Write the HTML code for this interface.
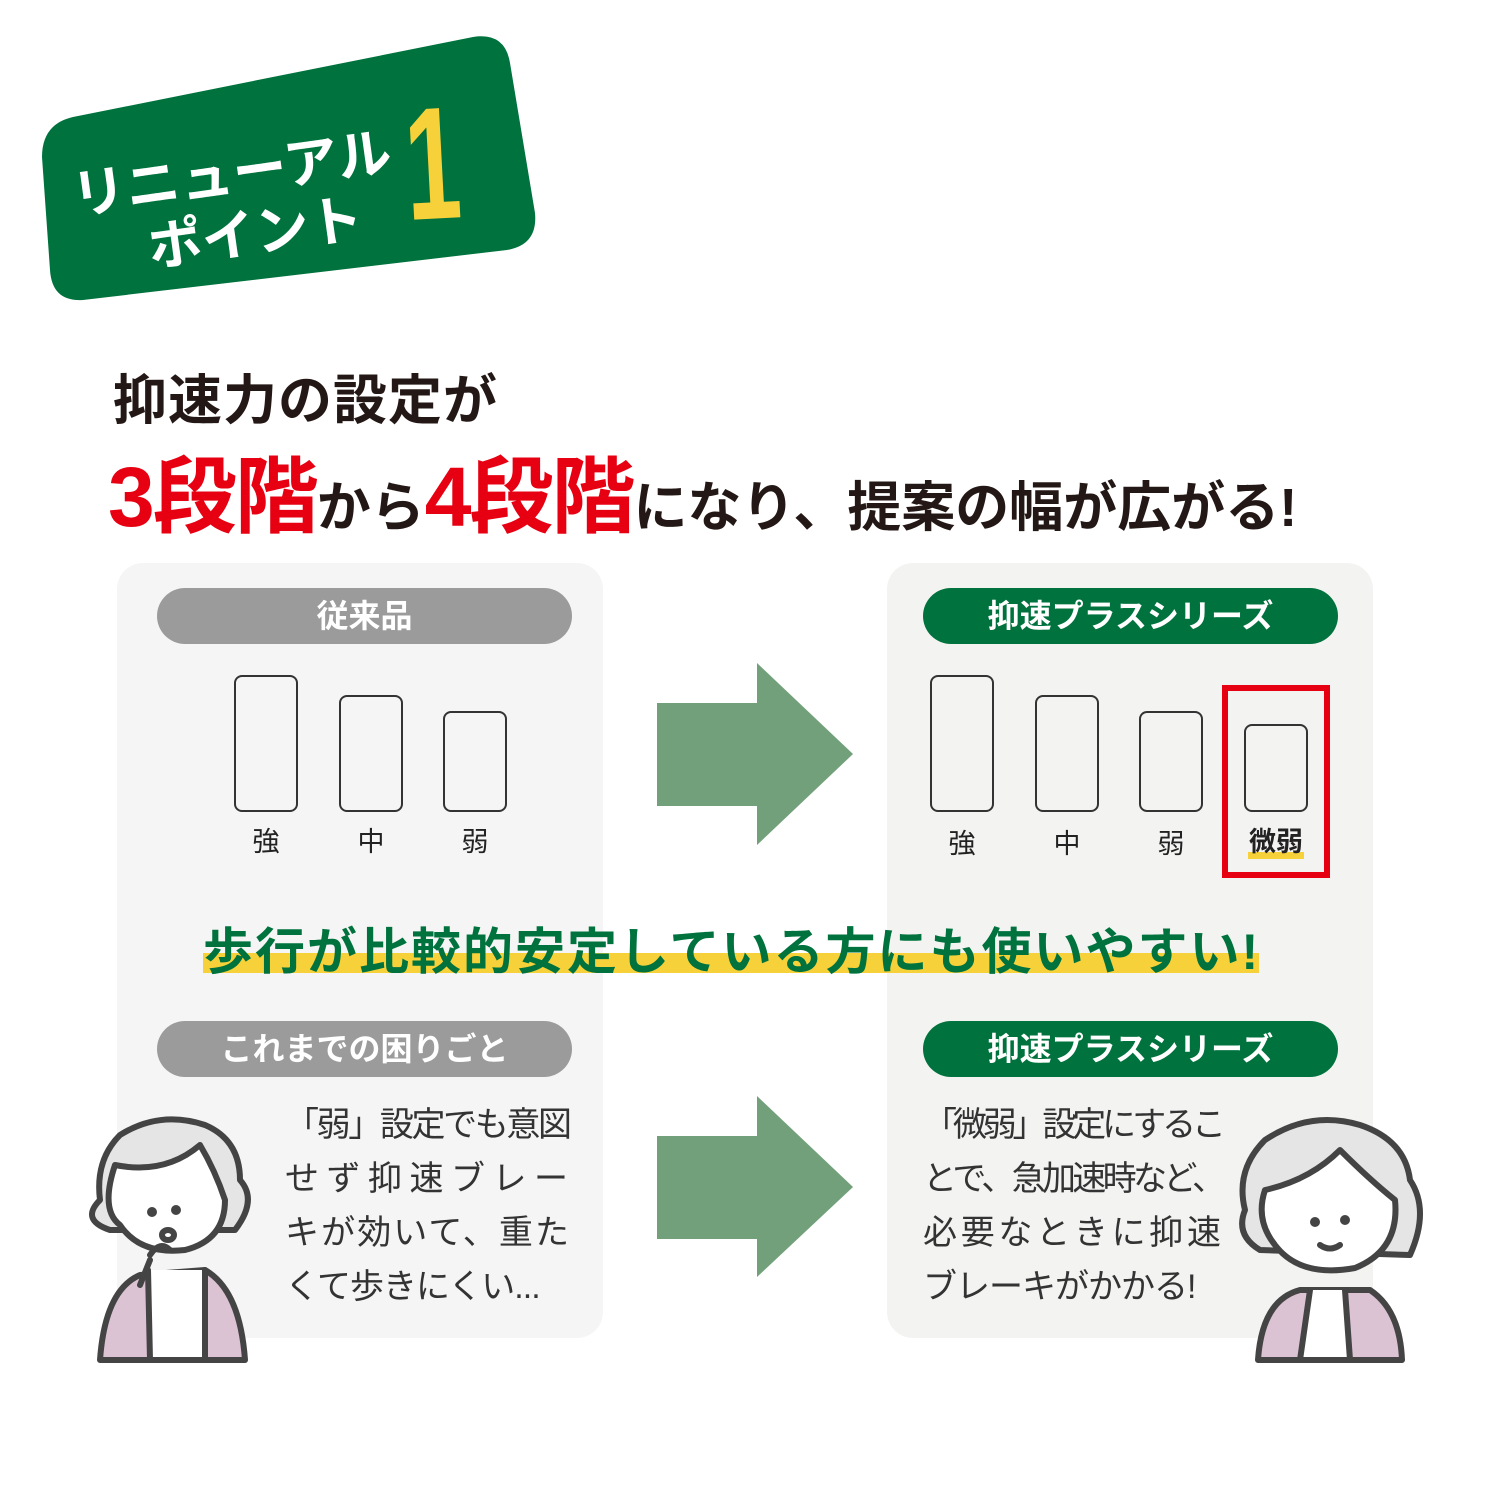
<!DOCTYPE html>
<html><head><meta charset="utf-8"><style>
body{margin:0;width:1500px;height:1500px;background:#fff;position:relative;overflow:hidden;font-family:"Liberation Sans","Noto Sans CJK JP",sans-serif;}
.a{position:absolute;white-space:nowrap}
.panel{position:absolute;border-radius:26px}
.pill{position:absolute;height:56px;border-radius:28px;color:#fff;font-size:32px;font-weight:bold;text-align:center;line-height:56px}
.bar{position:absolute;border:2px solid #333;border-radius:8px;background:transparent;box-sizing:border-box}
.lbl{position:absolute;font-size:27px;color:#222;width:64px;text-align:center}
.ln{position:absolute;font-size:34px;color:#333;height:54px;line-height:54px;white-space:nowrap;overflow:visible}
.j{text-align:justify;text-align-last:justify}
</style></head><body>
<svg class="a" style="left:0;top:0" width="1500" height="1500">
<path d="M73,117 L473,37 Q505,32 510,63 L535,213 Q538,245 507,250 L83,300 Q52,302 50,270 L42,157 Q42,124 73,117 Z" fill="#00723d"/>
<g transform="rotate(-8 250 180)" font-family="Liberation Sans,Noto Sans CJK JP,sans-serif" font-weight="bold" fill="#fff">
<text x="72" y="190" font-size="54">リニューアル</text>
<text x="140" y="252" font-size="54">ポイント</text>
</g>
<text x="0" y="0" font-size="160" font-weight="bold" fill="#f7d13a" font-family="Liberation Sans,sans-serif" transform="translate(408,220) rotate(-3) scale(0.62,1)">1</text>
</svg>
<div class="a" style="left:113px;top:356px;font-size:54px;font-weight:bold;color:#231815;letter-spacing:1px">抑速力の設定が</div>
<div class="a" style="left:108px;top:430px;font-weight:bold;color:#231815;font-size:54px;letter-spacing:0px"><span style="color:#e60012;font-size:84px;letter-spacing:-2px">3段階</span>から<span style="color:#e60012;font-size:84px;letter-spacing:-2px">4段階</span>になり、提案の幅が広がる!</div>

<div class="panel" style="left:117px;top:563px;width:486px;height:775px;background:#f5f5f5"></div>
<div class="panel" style="left:887px;top:563px;width:486px;height:775px;background:#f3f4f2"></div>

<div class="pill" style="left:157px;top:588px;width:415px;background:#9b9b9b">従来品</div>
<div class="pill" style="left:923px;top:588px;width:415px;background:#00723d">抑速プラスシリーズ</div>
<div class="pill" style="left:157px;top:1021px;width:415px;background:#9b9b9b">これまでの困りごと</div>
<div class="pill" style="left:923px;top:1021px;width:415px;background:#00723d">抑速プラスシリーズ</div>

<div class="bar" style="left:234px;top:675px;width:64px;height:137px"></div>
<div class="bar" style="left:339px;top:695px;width:64px;height:117px"></div>
<div class="bar" style="left:443px;top:711px;width:64px;height:101px"></div>
<div class="lbl" style="left:234px;top:820px">強</div>
<div class="lbl" style="left:339px;top:820px">中</div>
<div class="lbl" style="left:443px;top:820px">弱</div>

<div class="bar" style="left:930px;top:675px;width:64px;height:137px"></div>
<div class="bar" style="left:1035px;top:695px;width:64px;height:117px"></div>
<div class="bar" style="left:1139px;top:711px;width:64px;height:101px"></div>
<div class="bar" style="left:1244px;top:724px;width:64px;height:88px"></div>
<div class="lbl" style="left:930px;top:822px">強</div>
<div class="lbl" style="left:1035px;top:822px">中</div>
<div class="lbl" style="left:1139px;top:822px">弱</div>
<div class="a" style="left:1222px;top:685px;width:108px;height:193px;border:6px solid #e60012;box-sizing:border-box"></div>
<div class="a" style="left:1248px;top:852px;width:56px;height:7px;background:#f7d13a"></div>
<div class="lbl" style="left:1244px;top:820px;font-weight:bold">微弱</div>

<svg class="a" style="left:0;top:0" width="1500" height="1500">
<polygon points="657,703 757,703 757,663 853,754 757,845 757,806 657,806" fill="#72a07a"/>
<polygon points="657,1136 757,1136 757,1096 853,1187 757,1277 757,1239 657,1239" fill="#72a07a"/>
</svg>

<div class="a" style="left:203px;top:953px;width:1056px;height:20px;background:#f7d13a"></div>
<div class="a" style="left:203px;top:912px;font-size:50px;font-weight:bold;color:#00723d;letter-spacing:2px">歩行が比較的安定している方にも使いやすい!</div>

<div class="ln j" style="left:285px;top:1098px;width:283px;letter-spacing:-4px">「弱」設定でも意図</div>
<div class="ln j" style="left:285px;top:1152px;width:283px">せず抑速ブレー</div>
<div class="ln j" style="left:285px;top:1206px;width:283px;letter-spacing:-1px">キが効いて、重た</div>
<div class="ln" style="left:285px;top:1260px;letter-spacing:-1px">くて歩きにくい...</div>

<div class="ln j" style="left:923px;top:1098px;width:298px;letter-spacing:-5px">「微弱」設定にするこ</div>
<div class="ln j" style="left:923px;top:1152px;width:298px;letter-spacing:-5px">とで、急加速時など、</div>
<div class="ln j" style="left:923px;top:1206px;width:298px">必要なときに抑速</div>
<div class="ln" style="left:923px;top:1260px;letter-spacing:-1px">ブレーキがかかる!</div>

<svg class="a" style="left:0;top:0" width="1500" height="1500" fill="none" stroke="#444" stroke-width="6" stroke-linejoin="round" stroke-linecap="round">
<path d="M100,1360 Q105,1290 140,1275 L205,1270 Q240,1290 245,1360 Z" fill="#dcc3d3"/>
<path d="M148,1270 L150,1360 L205,1360 L205,1270" fill="#fff"/>
<path d="M100,1200 Q95,1160 120,1135 Q160,1110 205,1125 Q240,1140 240,1180 Q258,1200 235,1230 L110,1230 Q80,1220 100,1200 Z" fill="#e5e5e5"/>
<path d="M115,1165 Q165,1175 200,1145 Q215,1170 225,1200 Q225,1240 185,1250 Q140,1255 120,1225 Q100,1210 115,1165 Z" fill="#fff"/>
<path d="M150,1260 L140,1285 M150,1255 Q160,1240 170,1250" />
<circle cx="152" cy="1212" r="2" fill="#444"/><circle cx="176" cy="1210" r="2" fill="#444"/>
<ellipse cx="168" cy="1235" rx="6" ry="5"/>
<path d="M1258,1360 Q1262,1300 1300,1290 L1370,1290 Q1400,1310 1402,1360 Z" fill="#dcc3d3"/>
<path d="M1310,1290 L1300,1360 L1350,1360 L1345,1290" fill="#fff"/>
<path d="M1245,1210 Q1235,1170 1265,1140 Q1310,1110 1360,1125 Q1405,1140 1410,1180 Q1430,1210 1410,1255 L1260,1250 Q1235,1235 1245,1210 Z" fill="#e5e5e5"/>
<path d="M1265,1190 Q1310,1180 1340,1150 Q1370,1180 1395,1200 Q1400,1250 1355,1268 Q1300,1278 1275,1245 Q1255,1220 1265,1190 Z" fill="#fff"/>
<circle cx="1315" cy="1222" r="2" fill="#444"/><circle cx="1345" cy="1220" r="2" fill="#444"/>
<path d="M1320,1245 Q1330,1252 1340,1245"/>
</svg>
</body></html>
